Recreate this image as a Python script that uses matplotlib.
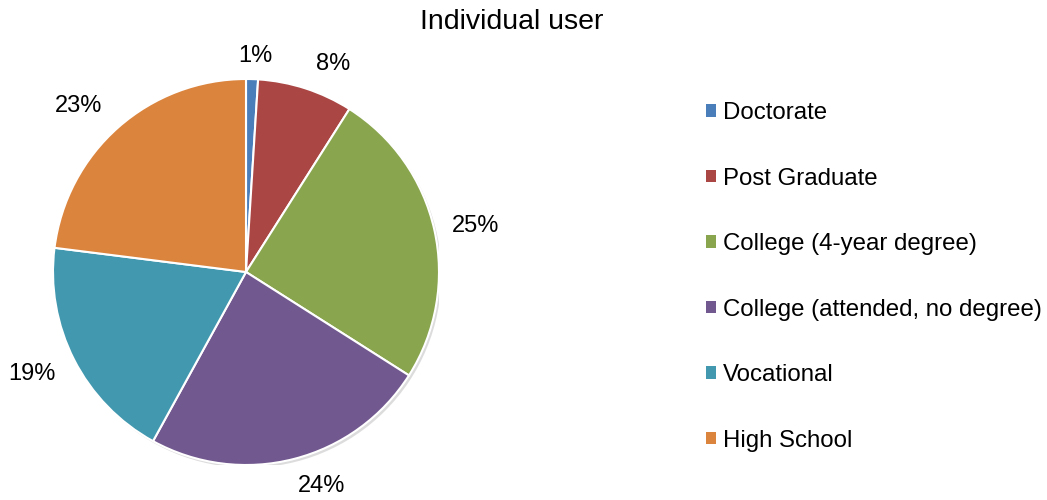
import matplotlib
matplotlib.use("Agg")
import matplotlib.pyplot as plt
from matplotlib.patches import Patch, Circle

plt.rcParams['font.family'] = ['Liberation Sans', 'DejaVu Sans']

categories = ["Doctorate", "Post Graduate", "College (4-year degree)",
              "College (attended, no degree)", "Vocational", "High School"]
shares = [1, 8, 25, 24, 19, 23]
colors = ["#4A7EBB", "#AA4643", "#89A54E", "#71588F", "#4198AF", "#DB843D"]

# where each percent label sits, in pie-radius units
label_xy = [(0.05, 1.12), (0.45, 1.08), (1.19, 0.24),
            (0.39, -1.11), (-1.11, -0.53), (-0.87, 0.86)]

W, H = 1047, 500
fig = plt.figure(figsize=(W / 100, H / 100), dpi=100)

cx, cy, r = 246, 272, 193
ax = fig.add_axes([(cx - r) / W, (H - cy - r) / H, 2 * r / W, 2 * r / H])

# soft shadow under the pie
ax.add_patch(Circle((0.012, -0.014), 1.0, color="#bbbbbb", alpha=0.5, zorder=0, lw=0))

wedges, _ = ax.pie(shares, colors=colors, startangle=90, counterclock=False,
                   radius=1.0, wedgeprops=dict(edgecolor="white", linewidth=1.5))
for w in wedges:
    w.set_zorder(1)

for (x, y), v in zip(label_xy, shares):
    ax.text(x, y, f"{v}%", ha="center", va="center", fontsize=17, color="black")

ax.set_xlim(-1, 1)
ax.set_ylim(-1, 1)
ax.set_aspect("equal")
ax.axis("off")

fig.text(512 / W, 1 - 22 / H, "Individual user", ha="center", va="center", fontsize=20.5)

handles = [Patch(facecolor=c, edgecolor="none") for c in colors]
fig.legend(handles, categories, loc="center left", bbox_to_anchor=(706 / W, 1 - 277 / H),
           frameon=False, fontsize=17.3, handlelength=0.42, handleheight=0.42,
           handletextpad=0.3, labelspacing=1.81, borderaxespad=0, borderpad=0)

fig.savefig("out.png", dpi=100)
